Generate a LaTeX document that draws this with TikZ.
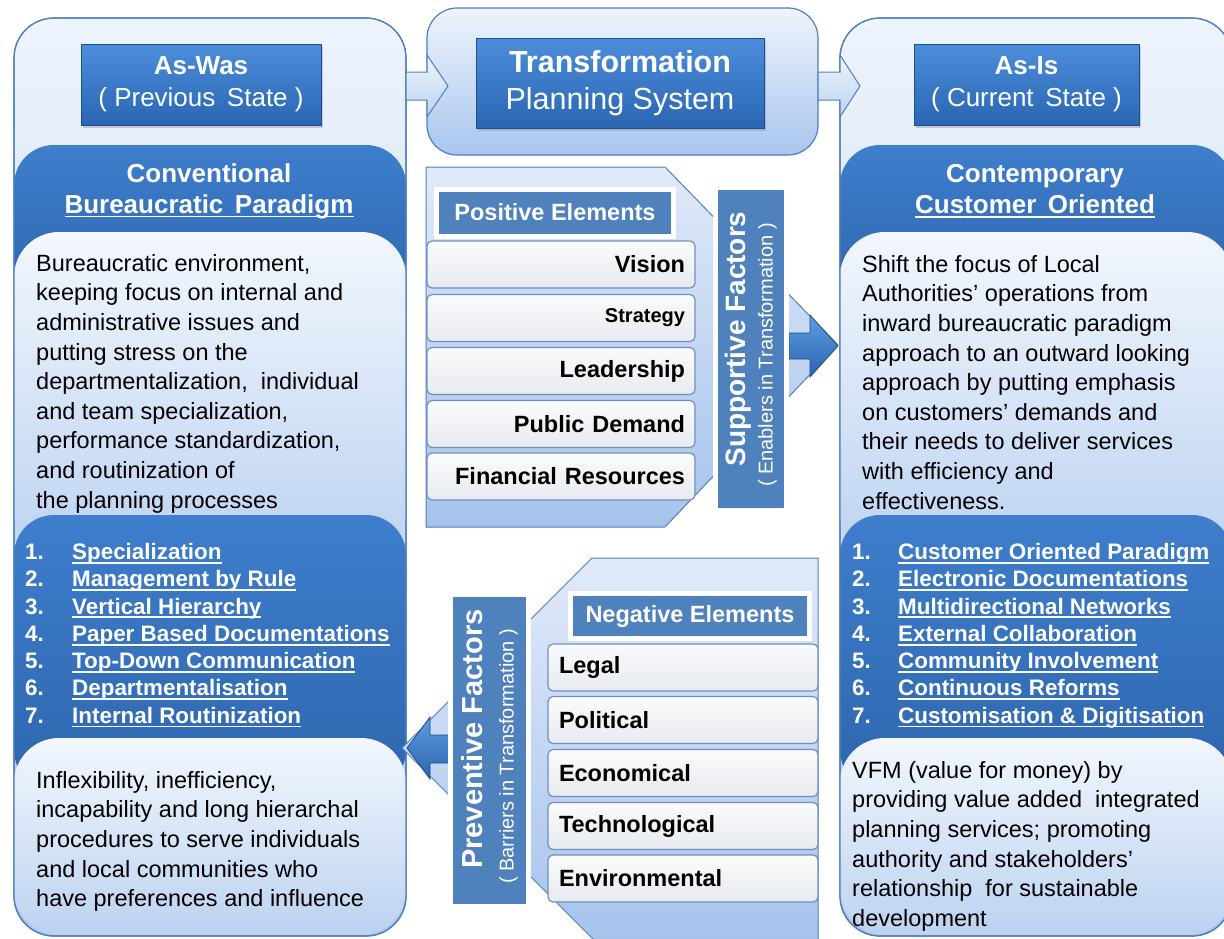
\documentclass[tikz,border=0pt]{standalone}
\usepackage{fontspec}
\setmainfont{Liberation Sans}
\usetikzlibrary{shadows}
\definecolor{pborder}{HTML}{4F7FBF}
\definecolor{pnlT}{HTML}{EEF4FC}
\definecolor{pnlB}{HTML}{A9C5EE}
\definecolor{dkT}{HTML}{3E7ECC}
\definecolor{dkB}{HTML}{2E66AE}
\definecolor{txT}{HTML}{F3F7FD}
\definecolor{txB}{HTML}{BCD2F1}
\definecolor{hdT}{HTML}{4C8DDB}
\definecolor{hdB}{HTML}{2A66B2}
\definecolor{hdE}{HTML}{1F4E8C}
\definecolor{elBlue}{HTML}{4F81BD}
\definecolor{rowT}{HTML}{FAFBFC}
\definecolor{rowB}{HTML}{E7EAEF}
\definecolor{rowE}{HTML}{7090C0}
\definecolor{pentT}{HTML}{E0EAF9}
\definecolor{pentB}{HTML}{A6C2EC}
\definecolor{arT}{HTML}{5C9DE2}
\definecolor{arB}{HTML}{2B63AE}
\newcommand\myul[1]{\setbox0\hbox{#1}\rlap{\vrule width\wd0 height -2.4pt depth 4.2pt}\box0}
\tikzset{
  panel/.style={draw=pborder, line width=1.2pt, top color=pnlT, bottom color=pnlB, rounded corners=40pt},
  panelline/.style={draw=pborder, line width=1.2pt, rounded corners=40pt},
  darkbox/.style={top color=dkT, bottom color=dkB, rounded corners=40pt},
  textbox/.style={top color=txT, bottom color=txB, rounded corners=45pt},
  headbox/.style={draw=hdE, line width=1pt, top color=hdT, bottom color=hdB, text=white, align=center,
    drop shadow={opacity=0.35, shadow xshift=2pt, shadow yshift=-3pt}},
  elhead/.style={fill=elBlue, draw=white, line width=5pt, text=white, font=\fontsize{23.5}{28}\selectfont\bfseries,
    drop shadow={opacity=0.25, shadow xshift=1.5pt, shadow yshift=-1.5pt}},
  factorbox/.style={fill=elBlue, draw=white, line width=5pt, text=white, align=center, rotate=90,
    drop shadow={opacity=0.25, shadow xshift=1.5pt, shadow yshift=-1.5pt}},
  posrow/.style={draw=rowE, line width=1.2pt, top color=rowT, bottom color=rowB, rounded corners=5pt,
    minimum width=268pt, minimum height=47pt, text width=248pt, align=right, inner sep=0pt,
    font=\fontsize{23.5}{28}\selectfont\bfseries},
  negrow/.style={draw=rowE, line width=1.2pt, top color=rowT, bottom color=rowB, rounded corners=5pt,
    minimum width=270pt, minimum height=47pt, text width=248pt, align=left, inner sep=0pt,
    font=\fontsize{23.5}{28}\selectfont\bfseries},
  pent/.style={draw=pborder, line width=1pt, top color=pentT, bottom color=pentB},
  lightarrow/.style={draw=pborder, line width=1pt, top color=pnlT, bottom color=txB},
  darkarrow/.style={draw=hdE, line width=0.8pt, top color=arT, bottom color=arB},
  bodytext/.style={anchor=north west, inner sep=0pt, align=left, font=\fontsize{23.5}{29.6}\selectfont, text=black},
  listtext/.style={anchor=north west, inner sep=0pt, align=left, font=\fontsize{22.4}{27.3}\selectfont\bfseries, text=white},
  paratitle/.style={align=center, inner sep=0pt, text=white, font=\fontsize{26}{31}\selectfont\bfseries},
}
\begin{document}
\begin{tikzpicture}[x=1pt,y=-1pt]
\clip (0,0) rectangle (1224,938);
\useasboundingbox (0,0) rectangle (1224,938);
\fill[white] (0,0) rectangle (1224,938);

% ---------- left panel ----------
\path[panel] (14,18) rectangle (406,936);
\path[darkbox] (14,145) rectangle (406,300);
\path[textbox] (14,232) rectangle (406,560);
\path[darkbox] (14,515) rectangle (406,790);
\path[textbox] (14,738) rectangle (406,935);
\path[panelline] (14,18) rectangle (406,936);

% ---------- right panel ----------
\path[panel] (840,18) rectangle (1232,936);
\path[darkbox] (840,145) rectangle (1232,300);
\path[textbox] (840,232) rectangle (1232,560);
\path[darkbox] (840,515) rectangle (1232,790);
\path[textbox] (840,738) rectangle (1232,935);
\path[panelline] (840,18) rectangle (1232,936);

% ---------- centre top ----------
\path[panel, rounded corners=30pt] (427,8) rectangle (818,155);

% heading boxes
\node[headbox, minimum width=240pt, minimum height=81pt, font=\fontsize{26}{32}\selectfont] (aswas) at (201,84.5)
  {{\bfseries As-Was}\\( Previous\ \,State )};
\node[headbox, minimum width=225pt, minimum height=81pt, font=\fontsize{26}{32}\selectfont] (asis) at (1026.5,84.5)
  {{\bfseries As-Is}\\( Current\ \,State )};
\node[headbox, minimum width=288pt, minimum height=90pt, font=\fontsize{30.5}{37}\selectfont] (tps) at (620,83)
  {{\bfseries Transformation}\\Planning System};

% light arrows between the top panels
\path[lightarrow] (406,72) -- (427,72) -- (427,55) -- (448,86) -- (427,117) -- (427,100) -- (406,100) -- cycle;
\path[lightarrow] (818,72) -- (840,72) -- (840,55) -- (860,86) -- (840,117) -- (840,100) -- (818,100) -- cycle;

% paradigm titles
\node[paratitle] (convTitle) at (209,191) {Conventional\\\myul{Bureaucratic\ \,Paradigm}};
\node[paratitle] (contTitle) at (1035,191) {Contemporary\\\myul{Customer\ \,Oriented}};

% body texts
\node[bodytext] (wasText) at (36,254) {Bureaucratic environment,\\keeping focus on internal and\\administrative issues and\\putting stress on the\\departmentalization,\ \ individual\\and team specialization,\\performance standardization,\\and routinization of\\the planning processes};
\node[bodytext] (isText) at (862,255) {Shift the focus of Local\\Authorities’ operations from\\inward bureaucratic paradigm\\approach to an outward looking\\approach by putting emphasis\\on customers’ demands and\\their needs to deliver services\\with efficiency and\\effectiveness.};

\node[listtext] (wasList) at (25,543) {\makebox[47pt][l]{1.}\myul{Specialization}\\
\makebox[47pt][l]{2.}\myul{Management by Rule}\\
\makebox[47pt][l]{3.}\myul{Vertical Hierarchy}\\
\makebox[47pt][l]{4.}\myul{Paper Based Documentations}\\
\makebox[47pt][l]{5.}\myul{Top-Down Communication}\\
\makebox[47pt][l]{6.}\myul{Departmentalisation}\\
\makebox[47pt][l]{7.}\myul{Internal Routinization}};
\node[listtext] (isList) at (852,543) {\makebox[46pt][l]{1.}\myul{Customer Oriented Paradigm}\\
\makebox[46pt][l]{2.}\myul{Electronic Documentations}\\
\makebox[46pt][l]{3.}\myul{Multidirectional Networks}\\
\makebox[46pt][l]{4.}\myul{External Collaboration}\\
\makebox[46pt][l]{5.}\myul{Community Involvement}\\
\makebox[46pt][l]{6.}\myul{Continuous Reforms}\\
\makebox[46pt][l]{7.}\myul{Customisation \& Digitisation}};

\node[bodytext] (wasOut) at (36,771) {Inflexibility, inefficiency,\\incapability and long hierarchal\\procedures to serve individuals\\and local communities who\\have preferences and influence};
\node[bodytext] (isOut) at (852,761) {VFM (value for money) by\\providing value added\ \ integrated\\planning services; promoting\\authority and stakeholders’\\relationship\ \ for sustainable\\development};

% ---------- positive elements ----------
\path[pent] (426,167) -- (665,167) -- (838,345) -- (665,527) -- (426,527) -- cycle;
\node[elhead, minimum width=237pt, minimum height=47pt] (posHead) at (555,212.5) {Positive Elements};
\node[posrow] (vision) at (561,264.5) {Vision};
\node[posrow, font=\fontsize{20}{24}\selectfont\bfseries] (strategy) at (561,318) {Strategy};
\node[posrow] (leader) at (561,371) {Leadership};
\node[posrow] (demand) at (561,424) {Public Demand};
\node[posrow] (finance) at (561,476.5) {Financial Resources};
\path[darkarrow] (789,333) -- (810,333) -- (810,315) -- (838,346) -- (810,377) -- (810,359) -- (789,359) -- cycle;
\node[factorbox, minimum width=323pt, minimum height=71pt, font=\fontsize{20}{27}\selectfont] (supp) at (751,348.5)
  {\hspace*{19pt}{\fontsize{28}{27}\selectfont\bfseries Supportive Factors}\\( Enablers in Transformation )\hspace{13pt}\mbox{}};

% ---------- negative elements ----------
\path[pent] (592,558) -- (818,558) -- (818,945) -- (599,945) -- (402,748) -- cycle;
\path[darkarrow] (449,735) -- (430,735) -- (430,717) -- (407,748) -- (430,779) -- (430,763) -- (449,763) -- cycle;
\node[factorbox, minimum width=312pt, minimum height=78pt, font=\fontsize{20}{31.5}\selectfont] (prev) at (489.5,750.5)
  {\hspace*{23pt}{\fontsize{29}{31.5}\selectfont\bfseries Preventive Factors}\\( Barriers in Transformation )\hspace{12pt}\mbox{}};
\node[elhead, minimum width=239pt, minimum height=45pt] (negHead) at (690,616) {Negative Elements};
\node[negrow] (legal) at (683,667.5) {Legal};
\node[negrow] (political) at (683,720) {Political};
\node[negrow] (economic) at (683,773) {Economical};
\node[negrow] (techno) at (683,826) {Technological};
\node[negrow] (environ) at (683,878.5) {Environmental};
\end{tikzpicture}
\end{document}
